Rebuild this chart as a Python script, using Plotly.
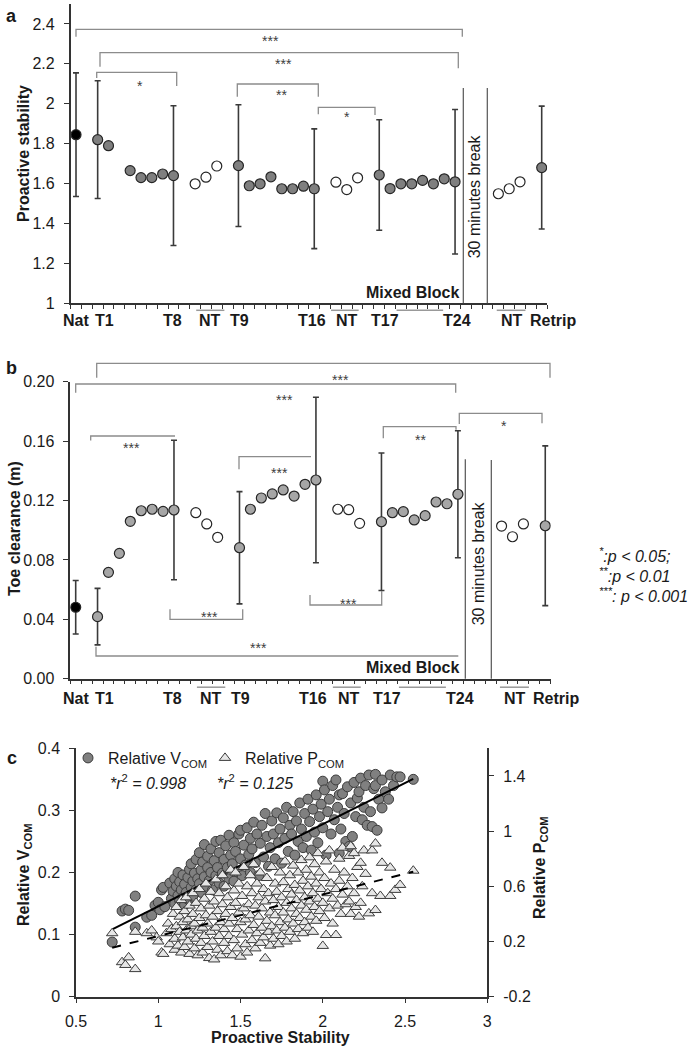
import plotly.graph_objects as go

W, H = 695, 1050
FONT = "Liberation Sans, Arial, Helvetica, sans-serif"
TXT = "#1a1a1a"

# ---------------- data: panels a and b ----------------
trial_labels = [f"T{i}" for i in range(1, 25)]
trial_pos = [2, 3, 4, 5, 6, 7, 8, 9,
             15, 16, 17, 18, 19, 20, 21, 22,
             28, 29, 30, 31, 32, 33, 34, 35]
nt_pos = [11, 12, 13, 24, 25, 26, 39, 40, 41]
nat_pos = [0]
retrip_pos = [43]

stab_trial = [1.82, 1.79, None, 1.665, 1.63, 1.63, 1.648, 1.64,
              1.69, 1.589, 1.599, 1.634, 1.574, 1.574, 1.587, 1.574,
              1.643, 1.575, 1.599, 1.599, 1.616, 1.599, 1.624, 1.609]
stab_trial_sd = [0.295, None, None, None, None, None, None, 0.35,
                 0.305, None, None, None, None, None, None, 0.30,
                 0.277, None, None, None, None, None, None, 0.362]
stab_nt = [1.599, 1.632, 1.688, 1.607, 1.570, 1.629, 1.549, 1.574, 1.609]
stab_nat = [1.845]
stab_nat_sd = [0.31]
stab_retrip = [1.68]
stab_retrip_sd = [0.308]

clear_trial = [0.0418, 0.0716, 0.0844, 0.106, 0.1131, 0.1141, 0.1127, 0.1136,
               0.0882, 0.1141, 0.1217, 0.1244, 0.1271, 0.123, 0.1309, 0.1338,
               0.1057, 0.1118, 0.1125, 0.1069, 0.1098, 0.119, 0.1178, 0.1242]
clear_trial_sd = [0.019, None, None, None, None, None, None, 0.047,
                  0.0378, None, None, None, None, None, None, 0.0557,
                  0.0463, None, None, None, None, None, None, 0.0428]
clear_nt = [0.1118, 0.1042, 0.0952, 0.1141, 0.1138, 0.1046, 0.1028, 0.0956, 0.1042]
clear_nat = [0.0481]
clear_nat_sd = [0.018]
clear_retrip = [0.103]
clear_retrip_sd = [0.0538]

tick_labels = ["Nat", "T1", "T8", "NT", "T9", "T16", "NT", "T17", "T24", "NT", "Retrip"]
tick_label_pos = [0, 2.6, 8.9, 12.4, 15.1, 21.75, 25.0, 28.5, 35.15, 40.25, 44.0]
group_lines = [(11.1, 13.7), (23.55, 26.1), (29.6, 33.9), (38.85, 41.5)]

# ---------------- data: panel c ----------------
vcom_x = [0.72, 0.78, 0.80, 0.82, 0.86, 0.86, 0.93, 0.96, 0.98, 1.00, 1.01, 1.02, 1.03, 1.04,
          1.07, 1.08, 1.09, 1.10, 1.10, 1.11, 1.12, 1.12, 1.13, 1.13, 1.14, 1.15, 1.15, 1.16,
          1.16, 1.17, 1.18, 1.18, 1.19, 1.20, 1.20, 1.21, 1.21, 1.22, 1.23, 1.23, 1.24, 1.25,
          1.25, 1.26, 1.26, 1.27, 1.28, 1.28, 1.29, 1.30, 1.30, 1.31, 1.32, 1.32, 1.33, 1.34,
          1.35, 1.35, 1.36, 1.37, 1.37, 1.38, 1.39, 1.40, 1.40, 1.41, 1.42, 1.43, 1.43, 1.44,
          1.45, 1.46, 1.46, 1.47, 1.48, 1.49, 1.50, 1.50, 1.51, 1.52, 1.53, 1.54, 1.55, 1.56,
          1.56, 1.57, 1.58, 1.59, 1.60, 1.61, 1.62, 1.63, 1.64, 1.65, 1.66, 1.67, 1.68, 1.69,
          1.70, 1.71, 1.72, 1.73, 1.74, 1.75, 1.76, 1.77, 1.78, 1.79, 1.80, 1.81, 1.82, 1.83,
          1.84, 1.85, 1.86, 1.87, 1.88, 1.89, 1.90, 1.91, 1.92, 1.93, 1.94, 1.95, 1.96, 1.97,
          1.98, 1.99, 2.00, 2.00, 2.01, 2.02, 2.03, 2.04, 2.05, 2.06, 2.07, 2.08, 2.09, 2.10,
          2.10, 2.11, 2.12, 2.13, 2.14, 2.15, 2.16, 2.17, 2.18, 2.19, 2.20, 2.21, 2.22, 2.23,
          2.24, 2.25, 2.26, 2.27, 2.28, 2.29, 2.30, 2.31, 2.32, 2.32, 2.33, 2.34, 2.36, 2.36,
          2.38, 2.40, 2.41, 2.43, 2.45, 2.47, 2.55]
vcom_y = [0.088, 0.138, 0.141, 0.139, 0.162, 0.112, 0.128, 0.131, 0.147, 0.152, 0.140, 0.172, 0.176, 0.145,
          0.183, 0.158, 0.170, 0.150, 0.190, 0.178, 0.163, 0.200, 0.155, 0.185, 0.172, 0.160, 0.196, 0.181,
          0.148, 0.168, 0.192, 0.157, 0.205, 0.176, 0.214, 0.186, 0.162, 0.199, 0.172, 0.221, 0.190, 0.182,
          0.232, 0.204, 0.168, 0.217, 0.193, 0.245, 0.178, 0.208, 0.226, 0.187, 0.238, 0.200, 0.172, 0.219,
          0.195, 0.250, 0.208, 0.183, 0.232, 0.252, 0.199, 0.221, 0.178, 0.243, 0.208, 0.260, 0.190, 0.228,
          0.214, 0.248, 0.186, 0.234, 0.201, 0.262, 0.268, 0.222, 0.195, 0.244, 0.212, 0.272, 0.229, 0.200,
          0.255, 0.238, 0.281, 0.216, 0.262, 0.195, 0.247, 0.276, 0.225, 0.295, 0.258, 0.210, 0.240, 0.283,
          0.262, 0.222, 0.296, 0.248, 0.270, 0.215, 0.288, 0.255, 0.305, 0.234, 0.276, 0.262, 0.298, 0.228,
          0.283, 0.250, 0.312, 0.270, 0.240, 0.295, 0.258, 0.318, 0.282, 0.236, 0.302, 0.265, 0.325, 0.248,
          0.290, 0.310, 0.347, 0.272, 0.333, 0.228, 0.298, 0.318, 0.262, 0.340, 0.285, 0.349, 0.305, 0.231,
          0.325, 0.270, 0.327, 0.295, 0.250, 0.338, 0.242, 0.312, 0.258, 0.345, 0.290, 0.320, 0.330, 0.352,
          0.285, 0.305, 0.340, 0.276, 0.357, 0.298, 0.274, 0.335, 0.358, 0.340, 0.268, 0.318, 0.349, 0.304,
          0.330, 0.318, 0.357, 0.340, 0.354, 0.354, 0.350]

pcom_x = [0.72, 0.78, 0.80, 0.82, 0.86, 0.86, 0.93, 0.96, 0.99, 1.00, 1.02, 1.03, 1.05, 1.06,
          1.07, 1.08, 1.09, 1.10, 1.10, 1.11, 1.11, 1.12, 1.13, 1.13, 1.14, 1.14, 1.15, 1.15,
          1.16, 1.16, 1.17, 1.17, 1.18, 1.18, 1.19, 1.19, 1.20, 1.20, 1.21, 1.21, 1.22, 1.22,
          1.23, 1.23, 1.24, 1.24, 1.25, 1.25, 1.26, 1.26, 1.27, 1.27, 1.28, 1.28, 1.29, 1.29,
          1.30, 1.30, 1.31, 1.31, 1.32, 1.32, 1.33, 1.33, 1.34, 1.34, 1.35, 1.35, 1.36, 1.36,
          1.37, 1.37, 1.38, 1.38, 1.39, 1.39, 1.40, 1.40, 1.41, 1.41, 1.42, 1.42, 1.43, 1.43,
          1.44, 1.44, 1.45, 1.45, 1.46, 1.46, 1.47, 1.47, 1.48, 1.48, 1.49, 1.49, 1.50, 1.50,
          1.51, 1.51, 1.52, 1.52, 1.53, 1.53, 1.54, 1.54, 1.55, 1.55, 1.56, 1.56, 1.57, 1.57,
          1.58, 1.58, 1.59, 1.59, 1.60, 1.60, 1.61, 1.61, 1.62, 1.62, 1.63, 1.63, 1.64, 1.64,
          1.65, 1.65, 1.66, 1.66, 1.67, 1.67, 1.68, 1.68, 1.69, 1.69, 1.70, 1.70, 1.71, 1.71,
          1.72, 1.72, 1.73, 1.73, 1.74, 1.74, 1.75, 1.75, 1.76, 1.76, 1.77, 1.77, 1.78, 1.78,
          1.79, 1.79, 1.80, 1.80, 1.81, 1.81, 1.82, 1.82, 1.83, 1.83, 1.84, 1.84, 1.85, 1.85,
          1.86, 1.86, 1.87, 1.87, 1.88, 1.88, 1.89, 1.89, 1.90, 1.90, 1.91, 1.91, 1.92, 1.92,
          1.93, 1.93, 1.94, 1.94, 1.95, 1.95, 1.96, 1.96, 1.97, 1.97, 1.98, 1.98, 1.99, 2.00,
          2.00, 2.01, 2.01, 2.02, 2.02, 2.03, 2.04, 2.04, 2.05, 2.06, 2.06, 2.07, 2.08, 2.08,
          2.09, 2.10, 2.10, 2.11, 2.12, 2.12, 2.13, 2.14, 2.15, 2.16, 2.16, 2.17, 2.17, 2.18,
          2.19, 2.19, 2.20, 2.21, 2.22, 2.23, 2.23, 2.24, 2.25, 2.26, 2.28, 2.30, 2.30, 2.32,
          2.32, 2.35, 2.36, 2.41, 2.41, 2.44, 2.47, 2.55]
pcom_y = [0.26, 0.05, 0.03, 0.085, 0.00, 0.27, 0.26, 0.28, 0.23, 0.20, 0.12, 0.11, 0.26, 0.33,
          0.18, 0.29, 0.40, 0.14, 0.22, 0.31, 0.45, 0.17, 0.27, 0.38, 0.12, 0.50, 0.23, 0.34,
          0.16, 0.42, 0.28, 0.52, 0.20, 0.36, 0.11, 0.46, 0.25, 0.31, 0.40, 0.55, 0.15, 0.33,
          0.22, 0.48, 0.28, 0.10, 0.37, 0.58, 0.19, 0.44, 0.30, 0.12, 0.51, 0.24, 0.39, 0.62,
          0.16, 0.33, 0.08, 0.46, 0.27, 0.56, 0.20, 0.38, 0.07, 0.49, 0.30, 0.65, 0.14, 0.42,
          0.24, 0.55, 0.34, 0.10, 0.47, 0.68, 0.19, 0.29, 0.40, 0.60, 0.13, 0.52, 0.33, 0.24,
          0.45, 0.72, 0.10, 0.37, 0.57, 0.21, 0.48, 0.70, 0.29, 0.15, 0.41, 0.62, 0.34, 0.09,
          0.53, 0.25, 0.74, 0.44, 0.18, 0.36, 0.60, 0.12, 0.47, 0.28, 0.68, 0.39, 0.21, 0.55,
          0.32, 0.76, 0.15, 0.46, 0.62, 0.26, 0.38, 0.52, 0.19, 0.70, 0.44, 0.30, 0.58, 0.23,
          0.078, 0.49, 0.35, 0.66, 0.27, 0.55, 0.41, 0.17, 0.74, 0.31, 0.50, 0.22, 0.62, 0.39,
          0.28, 0.56, 0.18, 0.45, 0.70, 0.34, 0.52, 0.24, 0.63, 0.41, 0.30, 0.78, 0.48, 0.20,
          0.58, 0.36, 0.68, 0.27, 0.44, 0.54, 0.33, 0.75, 0.22, 0.61, 0.40, 0.50, 0.29, 0.70,
          0.57, 0.37, 0.46, 0.79, 0.26, 0.64, 0.52, 0.34, 0.43, 0.72, 0.60, 0.30, 0.49, 0.81,
          0.38, 0.67, 0.55, 0.27, 0.45, 0.76, 0.62, 0.35, 0.51, 0.84, 0.42, 0.70, 0.58, 0.168,
          0.48, 0.66, 0.37, 0.247, 0.78, 0.55, 0.44, 0.86, 0.62, 0.51, 0.33, 0.72, 0.247, 0.58,
          0.46, 0.80, 0.64, 0.40, 0.54, 0.88, 0.70, 0.47, 0.60, 0.49, 0.82, 0.40, 0.89, 0.66,
          0.84, 0.55, 0.45, 0.74, 0.38, 0.77, 0.48, 0.60, 0.86, 0.69, 0.404, 0.86, 0.55, 0.91,
          0.428, 0.53, 0.77, 0.53, 0.735, 0.574, 0.61, 0.713]

fit_x = [0.72, 2.55]
vcom_fit = [0.1085, 0.3506]
pcom_fit = [0.155, 0.706]
vcom_r2 = "0.998"
pcom_r2 = "0.125"

# ---------------- geometry helpers (pixel -> paper) ----------------
def PX(x):
    return x / W

def PY(y):
    return 1 - y / H

A_X0, A_DX, A_AXIS = 76.0, 10.83, 303.3   # panel a: index 0 pixel, step, axis y
B_X0, B_DX, B_AXIS = 75.7, 10.92, 678.7   # panel b

def xa(i):
    return A_X0 + A_DX * i

def xb(i):
    return B_X0 + B_DX * i

shapes = []
annotations = []

def path(pts, color="#8c8c8c", width=1.3, dash="solid"):
    d = "M " + " L ".join(f"{PX(x):.5f},{PY(y):.5f}" for x, y in pts)
    shapes.append(dict(type="path", path=d, xref="paper", yref="paper",
                       line=dict(color=color, width=width, dash=dash), layer="above"))

def text(x, y, s, size=16, bold=False, italic=False, angle=0, xanchor="center",
         yanchor="middle", color=TXT):
    if bold:
        s = f"<b>{s}</b>"
    if italic:
        s = f"<i>{s}</i>"
    annotations.append(dict(x=PX(x), y=PY(y), xref="paper", yref="paper", text=s,
                            showarrow=False, textangle=angle, xanchor=xanchor,
                            yanchor=yanchor, font=dict(size=size, color=color, family=FONT)))

def stars(x, y, s):
    text(x, y + 3.5, s, size=14, color="#404040")

fig = go.Figure()

# ---------------- panel a traces ----------------
EB = dict(type="data", visible=True, color="#3a3a3a", thickness=1.6, width=3)

def mk(fill, line="#262626"):
    return dict(size=10, color=fill, line=dict(color=line, width=1.2))

fig.add_trace(go.Scatter(x=nat_pos, y=stab_nat, mode="markers", marker=mk("#000000"),
                         error_y=dict(array=stab_nat_sd, **EB), xaxis="x", yaxis="y",
                         showlegend=False))
fig.add_trace(go.Scatter(x=trial_pos, y=stab_trial, mode="markers", marker=mk("#7f7f7f"),
                         error_y=dict(array=stab_trial_sd, **EB), xaxis="x", yaxis="y",
                         showlegend=False, text=trial_labels))
fig.add_trace(go.Scatter(x=nt_pos, y=stab_nt, mode="markers", marker=mk("#ffffff"),
                         xaxis="x", yaxis="y", showlegend=False))
fig.add_trace(go.Scatter(x=retrip_pos, y=stab_retrip, mode="markers", marker=mk("#7f7f7f"),
                         error_y=dict(array=stab_retrip_sd, **EB), xaxis="x", yaxis="y",
                         showlegend=False))

# ---------------- panel b traces ----------------
fig.add_trace(go.Scatter(x=nat_pos, y=clear_nat, mode="markers", marker=mk("#000000"),
                         error_y=dict(array=clear_nat_sd, **EB), xaxis="x2", yaxis="y2",
                         showlegend=False))
fig.add_trace(go.Scatter(x=trial_pos, y=clear_trial, mode="markers", marker=mk("#a6a6a6"),
                         error_y=dict(array=clear_trial_sd, **EB), xaxis="x2", yaxis="y2",
                         showlegend=False, text=trial_labels))
fig.add_trace(go.Scatter(x=nt_pos, y=clear_nt, mode="markers", marker=mk("#ffffff"),
                         xaxis="x2", yaxis="y2", showlegend=False))
fig.add_trace(go.Scatter(x=retrip_pos, y=clear_retrip, mode="markers", marker=mk("#a6a6a6"),
                         error_y=dict(array=clear_retrip_sd, **EB), xaxis="x2", yaxis="y2",
                         showlegend=False))

# ---------------- panel c traces ----------------
fig.add_trace(go.Scatter(x=vcom_x, y=vcom_y, mode="markers", name="Relative V<sub>COM</sub>",
                         marker=dict(size=10, color="#808080", line=dict(color="#3c3c3c", width=1)),
                         xaxis="x3", yaxis="y3", legend="legend"))
fig.add_trace(go.Scatter(x=pcom_x, y=pcom_y, mode="markers", name="Relative P<sub>COM</sub>",
                         marker=dict(size=10, symbol="triangle-up", color="#e6e6e6",
                                     line=dict(color="#3c3c3c", width=1)),
                         xaxis="x3", yaxis="y4", legend="legend2"))
fig.add_trace(go.Scatter(x=fit_x, y=vcom_fit, mode="lines", line=dict(color="#000", width=2),
                         xaxis="x3", yaxis="y3", showlegend=False))
fig.add_trace(go.Scatter(x=fit_x, y=pcom_fit, mode="lines",
                         line=dict(color="#000", width=2, dash="dash"),
                         xaxis="x3", yaxis="y4", showlegend=False))

# ---------------- annotations: panel a ----------------
path([(xa(0), 36.7), (xa(0), 29.3), (462.3, 29.3), (462.3, 36.7)])
stars(270, 37.3, "***")
path([(100, 66.7), (100, 52.7), (458.3, 52.7), (458.3, 68.3)])
stars(283, 60.7, "***")
path([(96.7, 78), (96.7, 72.3), (176.7, 72.3), (176.7, 86)])
stars(140, 82.7, "*")
path([(237.3, 96.7), (237.3, 84), (318.3, 84), (318.3, 96.7)])
stars(281, 91.7, "**")
path([(318.3, 114.3), (318.3, 107.3), (375, 107.3), (375, 115)])
stars(346.7, 113.3, "*")
path([(463.3, 88), (463.3, A_AXIS)], color="#555555", width=1.2)
path([(487.3, 88), (487.3, A_AXIS)], color="#555555", width=1.2)
text(475.3, 196, "30 minutes break", size=16, angle=-90)
text(461, 292.3, "Mixed Block", size=16, bold=True, xanchor="right")
for lab, pos in zip(tick_labels, tick_label_pos):
    text(xa(pos), 320.7, lab, size=16, bold=True)
for g0, g1 in group_lines:
    path([(xa(g0), A_AXIS + 7), (xa(g1), A_AXIS + 7)], color="#999999", width=1.5)

# ---------------- annotations: panel b ----------------
path([(96.7, 377.7), (96.7, 363.3), (550, 363.3), (550, 377.7)])
path([(xb(0), 392.7), (xb(0), 384), (455.7, 384), (455.7, 392.7)])
stars(340, 376.7, "***")
path([(90.7, 440.5), (90.7, 436), (175, 436)])
stars(131.7, 444, "***")
path([(239, 469.3), (239, 456.7), (311, 456.7)])
stars(279.3, 469.3, "***")
stars(284, 396.7, "***")
path([(383.3, 438.3), (383.3, 426.7), (456, 426.7), (456, 429.7)])
stars(420, 436.7, "**")
path([(459.3, 424), (459.3, 413.3), (542, 413.3), (542, 423.3)])
stars(504, 422.7, "*")
path([(170, 609.3), (170, 619.3), (242.7, 619.3), (242.7, 609.3)])
stars(209.3, 613.3, "***")
path([(310, 595), (310, 605), (381.7, 605), (381.7, 591)])
stars(348.3, 600, "***")
path([(96, 646.7), (96, 656), (458.3, 656)])
stars(258.3, 644, "***")
path([(465.3, 459.3), (465.3, B_AXIS)], color="#555555", width=1.2)
path([(491.3, 460), (491.3, B_AXIS)], color="#555555", width=1.2)
text(478.3, 563, "30 minutes break", size=16, angle=-90)
text(461.5, 667, "Mixed Block", size=16, bold=True, xanchor="right")
for lab, pos in zip(tick_labels, tick_label_pos):
    text(xb(pos), 698.3, lab, size=16, bold=True)
for g0, g1 in group_lines:
    path([(xb(g0), B_AXIS + 8.5), (xb(g1), B_AXIS + 8.5)], color="#999999", width=1.5)

text(597, 555, "<sup>*</sup>:p < 0.05;", size=16, italic=True, xanchor="left")
text(597, 575, "<sup>**</sup>:p < 0.01", size=16, italic=True, xanchor="left")
text(597, 595, "<sup>***</sup>: p < 0.001", size=16, italic=True, xanchor="left")

# ---------------- annotations: panel c ----------------
text(147.5, 781.7, f"<i>*r</i><sup>2</sup><i> = {vcom_r2}</i>", size=16)
text(255, 781.7, f"<i>*r</i><sup>2</sup><i> = {pcom_r2}</i>", size=16)

# axis titles & panel letters
text(23, 154, "Proactive stability", size=16, bold=True, angle=-90)
text(14, 529, "Toe clearance (m)", size=16, bold=True, angle=-90)
text(24, 875, "Relative V<sub>COM</sub>", size=16, bold=True, angle=-90)
text(540, 868, "Relative P<sub>COM</sub>", size=16, bold=True, angle=-90)
text(280.5, 1037, "Proactive Stability", size=16, bold=True)
text(11, 16, "a", size=18, bold=True)
text(11, 368, "b", size=18, bold=True)
text(12, 758, "c", size=18, bold=True)

AX = dict(showgrid=False, zeroline=False, showline=True, linecolor="#333333", linewidth=1.5,
          ticks="outside", tickcolor="#333333", tickwidth=1.3, automargin=False,
          tickfont=dict(size=16, color=TXT, family=FONT))

LEG = dict(orientation="h", xanchor="left", yanchor="middle", bgcolor="rgba(0,0,0,0)",
           font=dict(size=16, color=TXT, family=FONT), itemwidth=30)

fig.update_layout(
    width=W, height=H, margin=dict(l=0, r=0, t=0, b=0, pad=0, autoexpand=False),
    paper_bgcolor="white", plot_bgcolor="rgba(0,0,0,0)",
    font=dict(family=FONT, color=TXT),
    xaxis=dict(domain=[PX(xa(-0.5)), PX(xa(43.5))], range=[-0.5, 43.5], anchor="y",
               tickmode="linear", tick0=-0.5, dtick=1, ticklen=4, showticklabels=False, **AX),
    yaxis=dict(domain=[PY(A_AXIS), PY(4)], range=[1, 2.5], anchor="x",
               tickvals=[1, 1.2, 1.4, 1.6, 1.8, 2, 2.2, 2.4],
               ticktext=["1", "1.2", "1.4", "1.6", "1.8", "2", "2.2", "2.4"],
               ticklen=5, ticklabelstandoff=6, **AX),
    xaxis2=dict(domain=[PX(xb(-0.5)), PX(xb(43.5))], range=[-0.5, 43.5], anchor="y2",
                tickmode="linear", tick0=-0.5, dtick=1, ticklen=4, showticklabels=False, **AX),
    yaxis2=dict(domain=[PY(B_AXIS), PY(381.7)], range=[0, 0.2], anchor="x2",
                tickvals=[0, 0.04, 0.08, 0.12, 0.16, 0.2],
                ticktext=["0.00", "0.04", "0.08", "0.12", "0.16", "0.20"],
                ticklen=5, ticklabelstandoff=6, **AX),
    xaxis3=dict(domain=[PX(76), PX(487.3)], range=[0.5, 3], anchor="y3",
                tickvals=[0.5, 1, 1.5, 2, 2.5, 3], ticktext=["0.5", "1", "1.5", "2", "2.5", "3"],
                ticklen=5, ticklabelstandoff=4, **AX),
    yaxis3=dict(domain=[PY(996.7), PY(748.3)], range=[0, 0.4], anchor="x3",
                tickvals=[0, 0.1, 0.2, 0.3, 0.4], ticktext=["0", "0.1", "0.2", "0.3", "0.4"],
                ticklen=5, ticklabelstandoff=6, **AX),
    yaxis4=dict(overlaying="y3", side="right", range=[-0.2, 1.6], anchor="x3",
                tickvals=[-0.2, 0.2, 0.6, 1, 1.4], ticktext=["-0.2", "0.2", "0.6", "1", "1.4"],
                ticklen=5, ticklabelstandoff=6, **AX),
    legend=dict(x=PX(68), y=PY(758), **LEG),
    legend2=dict(x=PX(205), y=PY(758), **LEG),
    shapes=shapes, annotations=annotations,
)

# remove the browser's default 8px page margin so the figure sits at the page origin
fig.write_html("out.html", config={"displayModeBar": False},
               post_script="document.body.style.margin='0';")
